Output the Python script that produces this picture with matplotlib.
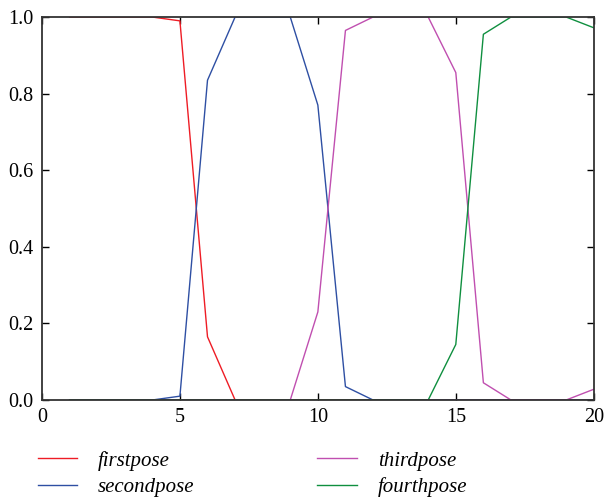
import numpy as np
import matplotlib
matplotlib.use('Agg')
import matplotlib.pyplot as plt

plt.rcParams['font.family'] = ['Liberation Serif', 'DejaVu Serif']

x = np.arange(1, 21)
firstpose = [1, 1, 1, 1, 0.99, 0.165, 0, 0, 0, 0, 0, 0, 0, 0, 0, 0, 0, 0, 0, 0]
secondpose = [0, 0, 0, 0, 0.01, 0.835, 1, 1, 1, 0.77, 0.035, 0, 0, 0, 0, 0, 0, 0, 0, 0]
thirdpose = [0, 0, 0, 0, 0, 0, 0, 0, 0, 0.23, 0.965, 1, 1, 1, 0.855, 0.045, 0, 0, 0, 0.028]
fourthpose = [0, 0, 0, 0, 0, 0, 0, 0, 0, 0, 0, 0, 0, 0, 0.145, 0.955, 1, 1, 1, 0.972]

fig = plt.figure(figsize=(6.04, 5.01), dpi=100)
ax = fig.add_axes([0.0695, 0.2016, 0.9135, 0.7644])

ax.plot(x, firstpose, color='#ee1c25', lw=1, label='firstpose')
ax.plot(x, secondpose, color='#2e4fa3', lw=1, label='secondpose')
ax.plot(x, thirdpose, color='#c04fb0', lw=1, label='thirdpose')
ax.plot(x, fourthpose, color='#0f8f3f', lw=1, label='fourthpose')

ax.set_xlim(0, 20)
ax.set_ylim(0, 1)
ax.set_xticks([0, 5, 10, 15, 20])
ax.set_yticks([0, 0.2, 0.4, 0.6, 0.8, 1.0])
ax.set_yticklabels(['0.0', '0.2', '0.4', '0.6', '0.8', '1.0'])
ax.tick_params(direction='in', top=True, right=True, labelsize=14.5, length=5, width=1, pad=6)
for s in ax.spines.values():
    s.set_linewidth(1.3)
    s.set_color('#333333')

fig.legend(loc='upper left', bbox_to_anchor=(0.045, 0.121), ncol=2, frameon=False,
           prop={'style': 'italic', 'size': 15}, handlelength=1.9, handletextpad=1.0,
           columnspacing=5.9, labelspacing=0.32, borderpad=0)

fig.savefig('out.png', dpi=100)
